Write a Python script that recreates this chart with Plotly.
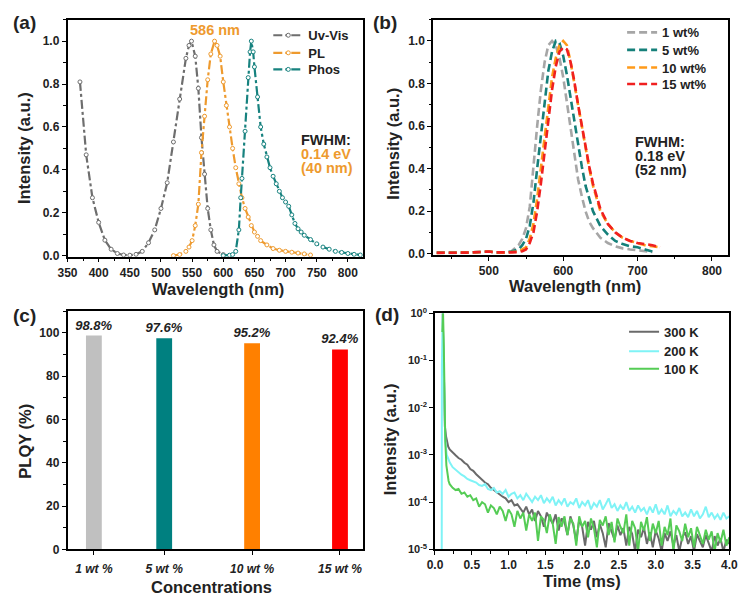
import plotly.graph_objects as go

W, H = 751, 608
FONT = "Arial, Liberation Sans, sans-serif"

# ---------------- (a) data ----------------
uv_wl = [370, 380, 390, 400, 410, 420, 430, 440, 450, 460, 470, 480, 490, 500, 510, 520, 530, 540, 545,
         549, 555, 560, 565, 570, 575, 580, 585, 590, 600]
uv_int = [0.81, 0.47, 0.27, 0.155, 0.072, 0.03, 0.01, 0.003, 0.002, 0.006, 0.02, 0.06, 0.12, 0.22, 0.34,
          0.53, 0.73, 0.92, 0.98, 1.0, 0.93, 0.78, 0.55, 0.38, 0.22, 0.12, 0.05, 0.02, 0.005]

pl_wl = [520, 530, 540, 545, 550, 555, 560, 565, 570, 575, 580, 586, 590, 595, 600, 605, 610, 615, 620,
         625, 630, 635, 640, 645, 650, 655, 660, 670, 680, 690, 700, 710, 720, 730, 740]
pl_int = [0.0, 0.005, 0.02, 0.04, 0.07, 0.14, 0.24, 0.48, 0.65, 0.82, 0.94, 1.0, 0.98, 0.93, 0.81, 0.7,
          0.6, 0.5, 0.41, 0.335, 0.27, 0.22, 0.18, 0.14, 0.11, 0.09, 0.07, 0.05, 0.033, 0.025, 0.02,
          0.016, 0.012, 0.008, 0.003]

ph_wl = [600, 610, 615, 620, 625, 628, 630, 635, 640, 643, 645, 648, 650, 655, 660, 665, 670, 675, 680,
         685, 690, 695, 700, 705, 710, 715, 720, 725, 730, 740, 750, 760, 770, 780, 790, 800, 810, 820]
ph_int = [0.0, 0.002, 0.005, 0.02, 0.12, 0.27, 0.36, 0.58, 0.83, 0.95, 1.0, 0.95, 0.88, 0.74, 0.6, 0.52,
          0.46, 0.41, 0.37, 0.335, 0.3, 0.27, 0.25, 0.23, 0.19, 0.15, 0.125, 0.11, 0.095, 0.075, 0.055,
          0.04, 0.03, 0.02, 0.015, 0.01, 0.006, 0.003]

# ---------------- (b) data ----------------
b_wl = [430, 450, 470, 490, 500, 510, 520, 530, 540, 545, 550, 555, 560, 565, 570, 575, 580, 585, 590,
        595, 600, 605, 610, 615, 620, 625, 630, 635, 640, 650, 660, 670, 680, 690, 700, 710, 720, 730]
b_1wt = [0.005, 0.003, 0.005, 0.008, 0.01, 0.005, 0.005, 0.01, 0.04, 0.07, 0.12, 0.22, 0.42, 0.6, 0.77,
         0.9, 0.98, 1.0, 0.98, 0.92, 0.83, 0.71, 0.57, 0.45, 0.35, 0.27, 0.2, 0.15, 0.12, 0.075, 0.05,
         0.035, 0.025, 0.02, 0.015, 0.01, 0.008, None]
b_5wt = [0.005, 0.004, 0.005, 0.008, 0.01, 0.006, 0.006, 0.01, 0.02, 0.04, 0.07, 0.13, 0.24, 0.4, 0.55,
         0.72, 0.86, 0.95, 1.0, 0.99, 0.93, 0.84, 0.73, 0.61, 0.51, 0.41, 0.32, 0.26, 0.2, 0.13, 0.09,
         0.06, 0.045, 0.035, 0.03, 0.02, 0.01, None]
b_10wt = [0.004, 0.004, 0.005, 0.008, 0.01, 0.006, 0.005, 0.008, 0.01, 0.02, 0.03, 0.07, 0.14, 0.26, 0.4,
          0.55, 0.7, 0.83, 0.92, 0.98, 1.0, 0.98, 0.9, 0.8, 0.69, 0.58, 0.49, 0.4, 0.32, 0.2, 0.14, 0.1,
          0.075, 0.06, 0.05, 0.04, 0.035, 0.03]
b_15wt = [0.004, 0.004, 0.005, 0.008, 0.01, 0.006, 0.005, 0.006, 0.008, 0.012, 0.02, 0.05, 0.1, 0.2, 0.33,
          0.47, 0.62, 0.77, 0.88, 0.95, 0.97, 0.96, 0.9, 0.81, 0.7, 0.6, 0.5, 0.41, 0.33, 0.21, 0.14, 0.1,
          0.075, 0.06, 0.05, 0.045, 0.04, 0.03]

# ---------------- (c) data ----------------
conc = [1, 5, 10, 15]
conc_labels = ["1 wt %", "5 wt %", "10 wt %", "15 wt %"]
plqy = [98.8, 97.6, 95.2, 92.4]
plqy_text = ["98.8%", "97.6%", "95.2%", "92.4%"]

# ---------------- (d) data ----------------
t_tail = [0.20, 0.24, 0.28, 0.32, 0.36, 0.40, 0.44, 0.48,
          0.52, 0.56, 0.60, 0.64, 0.68, 0.72, 0.76, 0.80,
          0.84, 0.88, 0.92, 0.96, 1.00, 1.04, 1.08, 1.12,
          1.16, 1.20, 1.24, 1.28, 1.32, 1.36, 1.40, 1.44,
          1.48, 1.52, 1.56, 1.60, 1.64, 1.68, 1.72, 1.76,
          1.80, 1.84, 1.88, 1.92, 1.96, 2.00, 2.04, 2.08,
          2.12, 2.16, 2.20, 2.24, 2.28, 2.32, 2.36, 2.40,
          2.44, 2.48, 2.52, 2.56, 2.60, 2.64, 2.68, 2.72,
          2.76, 2.80, 2.84, 2.88, 2.92, 2.96, 3.00, 3.04,
          3.08, 3.12, 3.16, 3.20, 3.24, 3.28, 3.32, 3.36,
          3.40, 3.44, 3.48, 3.52, 3.56, 3.60, 3.64, 3.68,
          3.72, 3.76, 3.80, 3.84, 3.88, 3.92, 3.96, 4.00]

t_300_head = [0.105, 0.115, 0.125, 0.135, 0.15, 0.165, 0.18]
i_300_head = [1.0, 0.1, 1.0e-2, 4.0e-3, 2.5e-3, 1.8e-3, 1.5e-3]
i_300_tail = [1.3e-3, 1.1e-3, 9.8e-4, 8.6e-4, 7.9e-4, 6.8e-4, 6.2e-4, 5.0e-4,
              4.6e-4, 3.9e-4, 3.4e-4, 3.0e-4, 2.6e-4, 2.4e-4, 2.0e-4, 1.8e-4,
              1.6e-4, 1.4e-4, 1.3e-4, 1.2e-4, 1.0e-4, 1.1e-4, 8.5e-5, 9.0e-5,
              7.5e-5, 6.0e-5, 8.0e-5, 5.5e-5, 7.0e-5, 4.0e-5, 6.5e-5, 5.0e-5,
              3.0e-5, 6.0e-5, 4.5e-5, 3.5e-5, 5.5e-5, 2.5e-5, 4.5e-5, 3.8e-5,
              2.0e-5, 5.0e-5, 3.2e-5, 1.5e-5, 4.2e-5, 3.0e-5, 1.2e-5, 3.8e-5,
              2.6e-5, 4.0e-5, 1.8e-5, 3.4e-5, 2.2e-5, 1.1e-5, 3.6e-5, 2.5e-5,
              1.6e-5, 3.2e-5, 2.0e-5, 2.8e-5, 1.2e-5, 3.0e-5, 2.1e-5, 9.0e-6,
              2.6e-5, 1.8e-5, 2.9e-5, 1.3e-5, 2.3e-5, 1.1e-5, 2.5e-5, 1.7e-5,
              9.0e-6, 2.2e-5, 1.5e-5, 2.4e-5, 1.2e-5, 2.0e-5, 9.0e-6, 1.8e-5,
              2.3e-5, 1.3e-5, 1.9e-5, 9.0e-6, 2.1e-5, 1.5e-5, 1.1e-5, 2.0e-5,
              1.4e-5, 9.0e-6, 1.9e-5, 1.2e-5, 1.7e-5, 9.0e-6, 1.6e-5, 1.3e-5]

t_200_head = [0.092, 0.094, 0.105, 0.115, 0.125, 0.14, 0.16, 0.18]
i_200_head = [9.0e-6, 0.08, 1.0, 0.1, 1.0e-2, 2.0e-3, 1.0e-3, 8.0e-4]
i_200_tail = [7.0e-4, 5.5e-4, 4.8e-4, 4.2e-4, 3.8e-4, 3.5e-4, 3.1e-4, 2.9e-4,
              2.7e-4, 2.6e-4, 2.3e-4, 2.2e-4, 2.4e-4, 1.9e-4, 1.8e-4, 2.0e-4,
              1.6e-4, 1.7e-4, 1.5e-4, 1.8e-4, 1.3e-4, 1.5e-4, 1.6e-4, 1.2e-4,
              1.4e-4, 1.1e-4, 1.5e-4, 1.2e-4, 1.0e-4, 1.3e-4, 1.1e-4, 1.4e-4,
              9.5e-5, 1.2e-4, 1.0e-4, 1.3e-4, 8.5e-5, 1.1e-4, 9.0e-5, 1.2e-4,
              8.0e-5, 1.0e-4, 9.0e-5, 1.2e-4, 7.5e-5, 1.0e-4, 8.5e-5, 1.1e-4,
              7.0e-5, 9.5e-5, 8.0e-5, 1.1e-4, 7.0e-5, 9.0e-5, 1.2e-4, 7.5e-5,
              9.0e-5, 6.5e-5, 8.5e-5, 7.0e-5, 1.0e-4, 6.5e-5, 8.0e-5, 6.0e-5,
              8.5e-5, 6.5e-5, 7.5e-5, 5.5e-5, 8.0e-5, 6.0e-5, 9.0e-5, 5.5e-5,
              7.0e-5, 5.5e-5, 8.5e-5, 5.0e-5, 6.5e-5, 5.5e-5, 7.5e-5, 5.0e-5,
              6.0e-5, 4.8e-5, 7.0e-5, 5.0e-5, 6.5e-5, 4.5e-5, 5.5e-5, 8.0e-5,
              4.8e-5, 6.0e-5, 4.5e-5, 5.5e-5, 4.2e-5, 6.0e-5, 4.5e-5, 5.0e-5]

t_100_head = [0.10, 0.11, 0.12, 0.13, 0.14, 0.155, 0.17, 0.185]
i_100_head = [0.4, 1.0, 0.2, 1.0e-2, 2.0e-3, 6.0e-4, 4.0e-4, 2.8e-4]
i_100_tail = [2.4e-4, 2.0e-4, 1.8e-4, 1.9e-4, 1.5e-4, 1.6e-4, 1.3e-4, 1.4e-4,
              1.1e-4, 1.2e-4, 8.0e-5, 1.0e-4, 9.0e-5, 6.0e-5, 8.5e-5, 7.5e-5,
              5.5e-5, 8.0e-5, 6.5e-5, 4.0e-5, 7.0e-5, 5.5e-5, 3.0e-5, 6.5e-5,
              4.5e-5, 6.0e-5, 2.5e-5, 5.5e-5, 4.0e-5, 6.0e-5, 1.5e-5, 5.0e-5,
              4.2e-5, 2.2e-5, 5.5e-5, 3.5e-5, 1.3e-5, 4.8e-5, 3.0e-5, 5.0e-5,
              2.0e-5, 4.5e-5, 3.5e-5, 1.2e-5, 5.0e-5, 3.0e-5, 4.0e-5, 1.8e-5,
              4.5e-5, 2.8e-5, 1.1e-5, 4.2e-5, 3.2e-5, 5.0e-5, 2.0e-5, 3.8e-5,
              1.4e-5, 4.5e-5, 3.0e-5, 2.2e-5, 5.5e-5, 1.2e-5, 4.0e-5, 2.8e-5,
              9.0e-6, 3.8e-5, 2.5e-5, 4.8e-5, 1.5e-5, 3.5e-5, 2.2e-5, 4.0e-5,
              1.2e-5, 3.0e-5, 2.0e-5, 4.5e-5, 9.0e-6, 3.2e-5, 2.4e-5, 1.5e-5,
              3.5e-5, 1.8e-5, 2.8e-5, 1.1e-5, 3.0e-5, 2.0e-5, 1.3e-5, 2.6e-5,
              1.6e-5, 2.4e-5, 9.0e-6, 2.2e-5, 1.4e-5, 2.6e-5, 1.2e-5, 1.8e-5]

# ---------------- colours ----------------
C_UV, C_PL, C_PH = "#6e6e6e", "#ee9a2e", "#17827f"
C_B = ["#a6a6a6", "#15807a", "#ff9a1a", "#f02020"]
C_BAR = ["#c0c0c0", "#008080", "#ff8000", "#ff0000"]
C_D = ["#6a6a6a", "#7ff3f6", "#55cc55"]


def fx(px):
    return px / W


def fy(py):
    return 1 - py / H


fig = go.Figure()
legends = {}
legfont = dict(family=FONT, size=13, color="#222", weight="bold")
TEXT_OFF = 47  # pixels from legend x to start of its text


def add_legend(key, text_x, row_y):
    legends[key] = dict(bgcolor="rgba(0,0,0,0)", borderwidth=0, font=legfont, itemwidth=30,
                        xanchor="left", yanchor="middle", x=fx(text_x - TEXT_OFF), y=fy(row_y))


lg = 1
for (wl, val, name, c), ry in zip([(uv_wl, uv_int, "Uv-Vis", C_UV), (pl_wl, pl_int, "PL", C_PL),
                                    (ph_wl, ph_int, "Phos", C_PH)], [28, 46, 63]):
    key = "legend" if lg == 1 else f"legend{lg}"
    fig.add_trace(go.Scatter(x=wl, y=val, name=name, mode="lines+markers",
                             line=dict(color=c, width=2.2, dash="dashdot"),
                             marker=dict(symbol="circle", size=4, color="white",
                                         line=dict(width=1, color=c)),
                             xaxis="x", yaxis="y", legend=key))
    add_legend(key, 312, ry)
    lg += 1

for (val, name, c), ry in zip([(b_1wt, "1 wt%", C_B[0]), (b_5wt, "5 wt%", C_B[1]),
                               (b_10wt, "10 wt%", C_B[2]), (b_15wt, "15 wt%", C_B[3])], [25, 43, 61, 78]):
    key = f"legend{lg}"
    fig.add_trace(go.Scatter(x=b_wl, y=val, name=name, mode="lines",
                             line=dict(color=c, width=2.6, dash="8px,4px"),
                             xaxis="x2", yaxis="y2", legend=key))
    add_legend(key, 675, ry)
    lg += 1

fig.add_trace(go.Bar(x=conc, y=plqy, width=0.9, marker=dict(color=C_BAR, line=dict(width=0)),
                     text=plqy_text, textposition="outside", cliponaxis=False, constraintext="none",
                     textfont=dict(family=FONT, size=13, color="#222", weight="bold", style="italic"),
                     showlegend=False, xaxis="x3", yaxis="y3"))

for (th, ih, it, name, c), ry in zip([(t_300_head, i_300_head, i_300_tail, "300 K", C_D[0]),
                                      (t_200_head, i_200_head, i_200_tail, "200 K", C_D[1]),
                                      (t_100_head, i_100_head, i_100_tail, "100 K", C_D[2])],
                                     [332, 352, 370]):
    key = f"legend{lg}"
    fig.add_trace(go.Scatter(x=th + t_tail, y=ih + it, name=name, mode="lines",
                             line=dict(color=c, width=2),
                             xaxis="x4", yaxis="y4", legend=key))
    add_legend(key, 677, ry)
    lg += 1

tickfont = dict(family=FONT, size=12, color="#222", weight="bold")
base = dict(showline=True, linecolor="black", linewidth=1.5, mirror=True, ticks="outside",
            ticklen=4, tickwidth=1.2, tickcolor="black", showgrid=False, zeroline=False,
            tickfont=tickfont, ticklabeloverflow="allow")


def ax(**kw):
    d = dict(base)
    d.update(kw)
    return d


def minor(dt):
    return dict(dtick=dt, ticks="outside", ticklen=2.5, tickwidth=1, tickcolor="black", showgrid=False)


fig.update_layout(
    width=W, height=H, margin=dict(l=0, r=0, t=0, b=0),
    paper_bgcolor="white", plot_bgcolor="white",
    font=dict(family=FONT, color="#222"),
    xaxis=ax(domain=[fx(59), fx(362)], range=[350, 824], dtick=50, tick0=350, minor=minor(25), anchor="y"),
    yaxis=ax(domain=[fy(255), fy(12)], range=[-0.005, 1.1], dtick=0.2, tickformat=".1f", minor=minor(0.1), anchor="x"),
    xaxis2=ax(domain=[fx(434), fx(737)], range=[425, 822], tickvals=[500, 600, 700, 800], minor=minor(50), anchor="y2"),
    yaxis2=ax(domain=[fy(253), fy(12)], range=[-0.005, 1.1], dtick=0.2, tickformat=".1f", minor=minor(0.1), anchor="x2"),
    xaxis3=ax(domain=[fx(59), fx(362)], range=[-0.5, 16.3], tickvals=conc, ticktext=conc_labels,
              tickfont=dict(family=FONT, size=12, color="#222", weight="bold", style="italic"),
              ticklabelstandoff=4, anchor="y3"),
    yaxis3=ax(domain=[fy(555), fy(311)], range=[0, 110], dtick=20, minor=minor(10), anchor="x3"),
    xaxis4=ax(domain=[fx(436), fx(738)], range=[0, 4], dtick=0.5, tickformat=".1f", minor=minor(0.25), anchor="y4"),
    yaxis4=ax(domain=[fy(555), fy(313)], type="log", range=[-5, 0],
              tickvals=[1, 1e-1, 1e-2, 1e-3, 1e-4, 1e-5],
              ticktext=["10<sup>0</sup>", "10<sup>-1</sup>", "10<sup>-2</sup>", "10<sup>-3</sup>",
                        "10<sup>-4</sup>", "10<sup>-5</sup>"],
              tickfont=dict(family=FONT, size=11, color="#222", weight="bold"), anchor="x4"),
    **legends,
)

ann = []


def label(text, x, y, size=16.5, color="#222", angle=0, xanchor="center"):
    ann.append(dict(text=text, x=fx(x), y=fy(y), xref="paper", yref="paper", showarrow=False,
                    textangle=angle, xanchor=xanchor, yanchor="middle",
                    font=dict(family=FONT, size=size, color=color, weight="bold")))


# panel labels
label("(a)", 1, 15, size=19, xanchor="left")
label("(b)", 370, 15, size=19, xanchor="left")
label("(c)", 1, 315, size=19, xanchor="left")
label("(d)", 372, 314, size=19, xanchor="left")
# axis titles
label("Wavelength (nm)", 213, 288)
label("Wavelength (nm)", 580, 285)
label("Concentrations", 207, 594)
label("Time (ms)", 587, 587)
label("Intensity (a.u.)", 15, 144, angle=-90)
label("Intensity (a.u.)", 392, 139, angle=-90)
label("PLQY (%)", 15, 444, angle=-90)
label("Intensity (a.u.)", 390, 442, angle=-90)


def dlabel(text, x, y, xr, yr, color="#222", xanchor="left", size=14.5):
    ann.append(dict(text=text, x=x, y=y, xref=xr, yref=yr, showarrow=False, xanchor=xanchor,
                    yanchor="middle", font=dict(family=FONT, size=size, color=color, weight="bold")))


dlabel("586 nm", 586, 1.05, "x", "y", color=C_PL, xanchor="center")
dlabel("FWHM:", 722, 0.54, "x", "y")
dlabel("0.14 eV", 722, 0.475, "x", "y", color=C_PL)
dlabel("(40 nm)", 722, 0.41, "x", "y", color=C_PL)
dlabel("FWHM:", 694, 0.524, "x2", "y2")
dlabel("0.18 eV", 694, 0.46, "x2", "y2")
dlabel("(52 nm)", 694, 0.395, "x2", "y2")

fig.update_layout(annotations=ann)
fig.write_html("out.html", config={"displayModeBar": False},
               post_script="document.body.style.margin='0px';document.body.style.overflow='hidden';")
